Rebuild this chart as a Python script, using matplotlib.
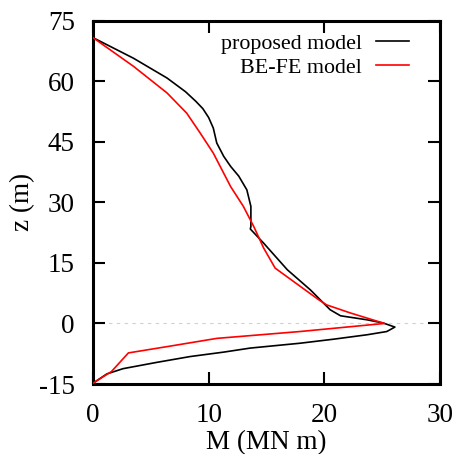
import matplotlib
matplotlib.use("Agg")
import matplotlib.pyplot as plt

plt.rcParams['font.family'] = ['Liberation Serif', 'DejaVu Serif']
plt.rcParams['axes.unicode_minus'] = False

# proposed model (black)
prop_M = [0, 3.5, 6.4, 8.0, 8.9, 9.5, 10.0, 10.4, 10.7, 11.3, 11.9, 12.6, 13.3, 13.65, 13.65, 13.6,
          14.75, 16.8, 18.8, 20.5, 21.4, 23.7, 25.1, 26.1, 25.4, 23.7, 20.8, 17.9,
          13.6, 11.3, 8.4, 5.5, 2.6, 1.2, 0]
prop_z = [70.8, 65.7, 60.8, 57.4, 55.0, 53.2, 51.0, 48.4, 44.7, 41.4, 38.9, 36.5, 33.1, 29.0, 24.0, 23.4,
          19.9, 13.3, 8.3, 3.4, 1.9, 0.9, 0.1, -0.9, -2.0, -2.8, -3.9, -4.9,
          -6.1, -7.1, -8.2, -9.65, -11.2, -12.5, -14.8]

# BE-FE model (red)
befe_M = [0, 3.5, 6.4, 8.1, 9.26, 10.4, 11.9, 13.0, 13.9, 14.75, 15.75, 19.5, 20.2,
          22.25, 25.2, 17.9, 10.7, 6.7, 3.06, 1.6, 0]
befe_z = [70.8, 63.7, 57.1, 52.1, 47.2, 42.2, 33.9, 29.0, 24.0, 18.7, 13.7, 5.9, 4.6,
          2.6, 0.0, -2.0, -3.7, -5.6, -7.3, -11.9, -14.8]

x_ticks = [0, 10, 20, 30]
y_ticks = [-15, 0, 15, 30, 45, 60, 75]

fig = plt.figure(figsize=(4.59, 4.54), dpi=100)
ax = fig.add_axes([93/459, 1-384/454, (440-93)/459, (384-20.7)/454])

ax.axhline(0, color='#d0d0d0', lw=0.8, ls=(0, (3, 4)), zorder=1)
ax.plot(prop_M, prop_z, color='black', lw=1.2, label='proposed model', zorder=3)
ax.plot(befe_M, befe_z, color='#ff0000', lw=1.2, label='BE-FE model', zorder=3)

ax.set_xlim(0, 30)
ax.set_ylim(-15, 75)
ax.set_xticks(x_ticks)
ax.set_yticks(y_ticks)
ax.tick_params(direction='in', length=8.5, width=1.5, top=True, right=True,
               labelsize=19.5)
ax.tick_params(axis='x', pad=13.5)
ax.tick_params(axis='y', pad=13)
for s in ax.spines.values():
    s.set_linewidth(2.2)

ax.set_xlabel('M (MN m)', fontsize=19.5, labelpad=2)
ax.set_ylabel('z (m)', fontsize=19.5, labelpad=3)

leg = ax.legend(loc='upper right', bbox_to_anchor=(0.911, 0.964), frameon=False,
                markerfirst=False, fontsize=15.8, handlelength=1.5,
                handletextpad=0.65, borderpad=0, borderaxespad=0,
                labelspacing=0.15)
for t in leg.get_texts():
    t.set_ha('right')

fig.savefig('out.png', dpi=100)
